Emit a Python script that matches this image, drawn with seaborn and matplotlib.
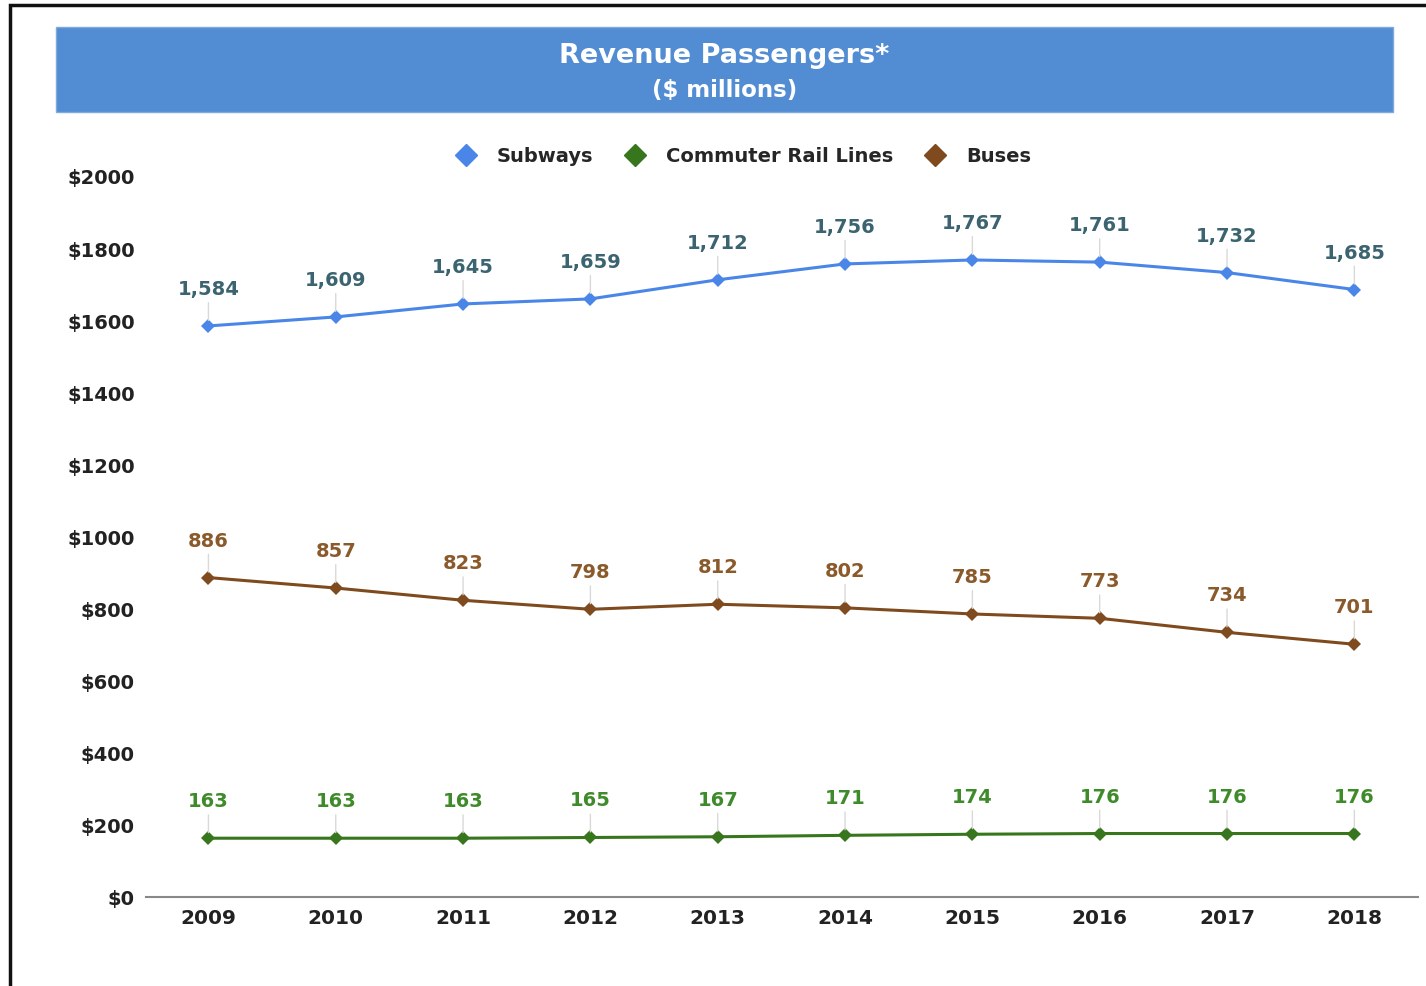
import matplotlib.patches as patches
import matplotlib.pyplot as plt
import pandas as pd
import seaborn as sns

years = ["2009", "2010", "2011", "2012", "2013", "2014", "2015", "2016", "2017", "2018"]
subways = [1584, 1609, 1645, 1659, 1712, 1756, 1767, 1761, 1732, 1685]
rail = [163, 163, 163, 165, 167, 171, 174, 176, 176, 176]
buses = [886, 857, 823, 798, 812, 802, 785, 773, 734, 701]
series = ["Subways", "Commuter Rail Lines", "Buses"]
y_ticks = [0, 200, 400, 600, 800, 1000, 1200, 1400, 1600, 1800, 2000]

line_colors = {"Subways": "#4a86e8", "Commuter Rail Lines": "#38761d", "Buses": "#7f4b1e"}
label_colors = {"Subways": "#3b6470", "Commuter Rail Lines": "#3f8a2a", "Buses": "#8b5a2b"}

rows = []
for name, vals in zip(series, [subways, rail, buses]):
    for i, (yr, v) in enumerate(zip(years, vals)):
        rows.append({"pos": i, "year": yr, "value": v, "series": name})
df = pd.DataFrame(rows)

sns.set_style("white")
plt.rcParams["font.family"] = ["DejaVu Sans"]

fig = plt.figure(figsize=(14.26, 9.87), dpi=100)
ax = fig.add_axes([0.1024, 0.0902, 0.892, 0.7305])

sns.lineplot(
    data=df, x="pos", y="value", hue="series", hue_order=series,
    palette=line_colors, marker="D", markersize=7, markeredgewidth=0,
    linewidth=2.2, ax=ax, legend=False,
)

# data labels with thin leader lines
for name in series:
    sub = df[df["series"] == name]
    for _, r in sub.iterrows():
        ax.annotate(
            f"{r['value']:,}", xy=(r["pos"], r["value"]), xytext=(0, 27),
            textcoords="offset points", ha="center", va="center",
            fontsize=14, fontweight="bold", color=label_colors[name],
            arrowprops=dict(arrowstyle="-", color="#d9d9d9", lw=1.0, shrinkA=1, shrinkB=4),
        )

ax.set_xlim(-0.49, 9.5)
ax.set_ylim(0, 2000)
ax.set_xticks(range(len(years)))
ax.set_xticklabels(years, fontsize=14.5, fontweight="bold", color="#222222")
ax.set_yticks(y_ticks)
ax.set_yticklabels([f"${v}" for v in y_ticks], fontsize=14, fontweight="bold", color="#222222")
ax.tick_params(axis="y", length=0, pad=8)
ax.tick_params(axis="x", length=0, pad=8)
for s in ["top", "right", "left"]:
    ax.spines[s].set_visible(False)
ax.spines["bottom"].set_color("#888888")
ax.spines["bottom"].set_linewidth(1.5)
ax.set_xlabel("")
ax.set_ylabel("")

# legend
handles = [
    plt.Line2D([], [], marker="D", color=line_colors[n], linestyle="none", markersize=11)
    for n in series
]
fig.legend(
    handles, series, loc="center", bbox_to_anchor=(0.518, 0.841), ncol=3, frameon=False,
    prop={"size": 14, "weight": "bold"}, handletextpad=0.6, columnspacing=1.15,
)

# title banner
fig.patches.append(patches.Rectangle(
    (56 / 1426, 1 - 113 / 987), (1393 - 56) / 1426, (113 - 28) / 987,
    transform=fig.transFigure, facecolor="#528cd3", edgecolor="#7faae0", lw=1,
))
fig.text(0.508, 1 - 56 / 987, "Revenue Passengers*", ha="center", va="center",
         color="white", fontsize=19.5, fontweight="bold")
fig.text(0.508, 1 - 91 / 987, "($ millions)", ha="center", va="center",
         color="white", fontsize=16.5, fontweight="bold")

# outer frame
fig.patches.append(patches.Rectangle(
    (10 / 1426, -0.05), 1.1, 1 - 6 / 987 + 0.05,
    transform=fig.transFigure, facecolor="none", edgecolor="#111111", lw=2.5,
))

fig.savefig("out.png", dpi=100)
